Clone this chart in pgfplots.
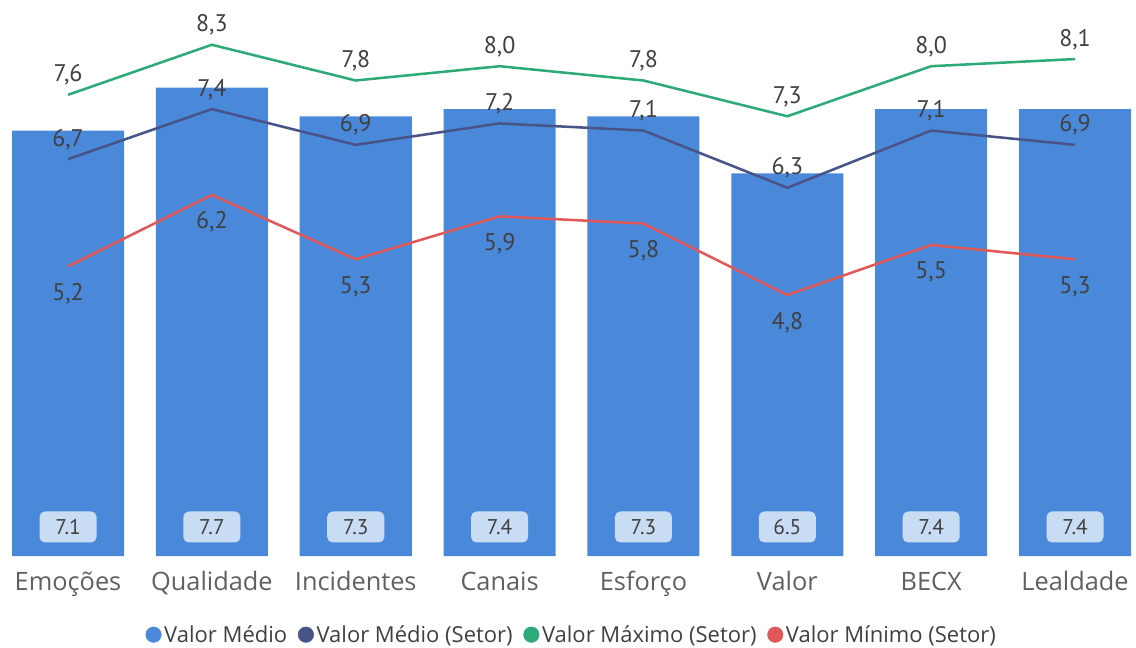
\documentclass[border=0pt]{standalone}
\usepackage{pgfplots}
\pgfplotsset{compat=1.18}
\usepackage{pgfplotstable}
\usepackage{fontspec}
\setmainfont{Open Sans}
\newfontfamily\labfont{PT Sans}

\definecolor{barblue}{RGB}{74,137,218}
\definecolor{boxfill}{RGB}{200,220,244}
\definecolor{navyl}{RGB}{72,84,136}
\definecolor{greenl}{RGB}{46,170,120}
\definecolor{redl}{RGB}{224,88,88}
\definecolor{labtext}{RGB}{64,64,64}
\definecolor{ticktext}{RGB}{96,96,96}

\pgfplotstableread{
x bar barl med medl max maxl min minl
0 7.1 7.1 6.7 6,7 7.6 7,6 5.2 5,2
1 7.7 7.7 7.4 7,4 8.3 8,3 6.2 6,2
2 7.3 7.3 6.9 6,9 7.8 7,8 5.3 5,3
3 7.4 7.4 7.2 7,2 8.0 8,0 5.9 5,9
4 7.3 7.3 7.1 7,1 7.8 7,8 5.8 5,8
5 6.5 6.5 6.3 6,3 7.3 7,3 4.8 4,8
6 7.4 7.4 7.1 7,1 8.0 8,0 5.5 5,5
7 7.4 7.4 6.9 6,9 8.1 8,1 5.3 5,3
}\data

\begin{document}
\begin{tikzpicture}
\begin{axis}[
  name=ax,
  scale only axis,
  width=849.75pt, height=417pt,
  xmin=-0.466, xmax=7.41,
  ymin=1.15, ymax=8.926,
  axis line style={draw=none},
  tick style={draw=none},
  ytick=\empty,
  xtick={0,...,7},
  xticklabels={Emoções,Qualidade,Incidentes,Canais,Esforço,Valor,BECX,Lealdade},
  xticklabel style={anchor=base, yshift=-25.5pt, text=ticktext, font=\fontsize{19}{22}\selectfont},
  legend columns=-1,
  legend style={draw=none, fill=none, at={(0.504,0)}, anchor=center, yshift=-59pt,
    font=\fontsize{16.5}{19}\selectfont, text=labtext,
    /tikz/every even column/.append style={column sep=6pt},
    nodes={inner xsep=2pt}},
  legend cell align=left,
]
\addlegendimage{legend image code/.code={\fill[barblue] (0pt,0pt) circle (5.8pt);}}
\addlegendentry{Valor Médio}
\addlegendimage{legend image code/.code={\fill[navyl] (0pt,0pt) circle (5.8pt);}}
\addlegendentry{Valor Médio (Setor)}
\addlegendimage{legend image code/.code={\fill[greenl] (0pt,0pt) circle (5.8pt);}}
\addlegendentry{Valor Máximo (Setor)}
\addlegendimage{legend image code/.code={\fill[redl] (0pt,0pt) circle (5.8pt);}}
\addlegendentry{Valor Mínimo (Setor)}

\addplot[ybar, bar width=84pt, fill=barblue, draw=none, forget plot] table[x=x, y=bar] {\data};

\addplot[draw=none, forget plot, nodes near coords, point meta=explicit symbolic,
  nodes near coords style={anchor=center, fill=boxfill, rounded corners=4pt,
    minimum width=42.75pt, minimum height=23.25pt, inner sep=0pt,
    text=labtext, font=\labfont\fontsize{16}{18}\selectfont}]
  table[x=x, y expr=1.556, meta=barl] {\data};

\addplot[navyl, line width=1.9pt, mark=none, forget plot, nodes near coords, point meta=explicit symbolic,
  nodes near coords style={anchor=base, yshift=9.75pt, text=labtext, font=\labfont\fontsize{18}{20}\selectfont}]
  table[x=x, y=med, meta=medl] {\data};
\addplot[greenl, line width=1.9pt, mark=none, forget plot, nodes near coords, point meta=explicit symbolic,
  nodes near coords style={anchor=base, yshift=9.75pt, text=labtext, font=\labfont\fontsize{18}{20}\selectfont}]
  table[x=x, y=max, meta=maxl] {\data};
\addplot[redl, line width=1.9pt, mark=none, forget plot, nodes near coords, point meta=explicit symbolic,
  nodes near coords style={anchor=base, yshift=-25.5pt, text=labtext, font=\labfont\fontsize{18}{20}\selectfont}]
  table[x=x, y=min, meta=minl] {\data};
\end{axis}
\pgfresetboundingbox
\path ([shift={(-0.75pt,-68.25pt)}]ax.south west) rectangle ([shift={(1.5pt,0pt)}]ax.north east);
\end{tikzpicture}
\end{document}
